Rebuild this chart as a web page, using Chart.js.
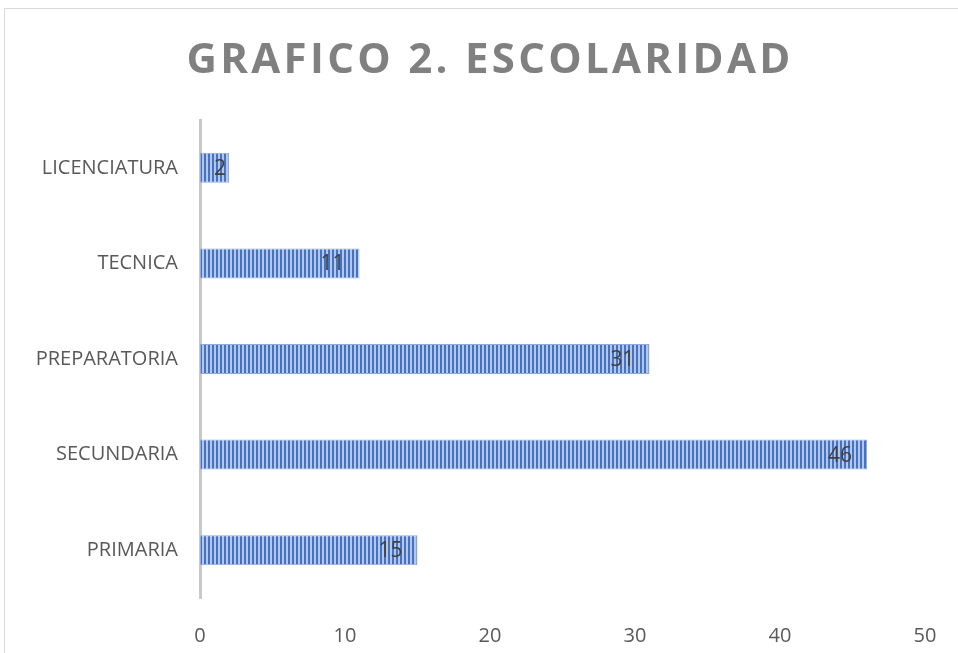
<!DOCTYPE html>
<html lang="es">
<head>
    <meta charset="UTF-8">
    <title>Grafico 2. Escolaridad</title>
    <script src="https://cdn.jsdelivr.net/npm/chart.js"></script>
    <style>
        html, body { margin: 0; padding: 0; background: #fff; }
        #wrap { position: relative; width: 958px; height: 653px; overflow: hidden; }
        #frame { position: absolute; left: 4px; top: 8px; width: 1000px; height: 700px;
                 border-top: 1px solid #d9d9d9; border-left: 1px solid #d9d9d9; }
        #grafico { position: absolute; left: 0; top: 0; }
    </style>
</head>
<body>
<div id="wrap">
    <div id="frame"></div>
    <canvas id="grafico" width="958" height="653"></canvas>
</div>

<script>
    // datos (orden de Excel: de abajo hacia arriba)
    const categorias = ['PRIMARIA', 'SECUNDARIA', 'PREPARATORIA', 'TECNICA', 'LICENCIATURA'];
    const valores = [15, 46, 31, 11, 2];
    const ticksX = [0, 10, 20, 30, 40, 50];
    const titulo = 'GRAFICO 2. ESCOLARIDAD';

    const fuente = "'Open Sans', 'Noto Sans', sans-serif";
    // el marco del grafico de Excel sigue mas alla del borde derecho
    const centroMarco = 488.5;

    // relleno rayado vertical como el de Excel
    function patronRayas() {
        const c = document.createElement('canvas');
        c.width = 4; c.height = 1;
        const g = c.getContext('2d');
        g.fillStyle = '#b4c7e9';
        g.fillRect(0, 0, 4, 1);
        g.fillStyle = '#4472c4';
        g.fillRect(0, 0, 2, 1);
        return g.createPattern(c, 'repeat');
    }

    // etiquetas de datos "extremo interno"
    const etiquetas = {
        id: 'etiquetas',
        afterDatasetsDraw(chart) {
            const ctx = chart.ctx;
            const meta = chart.getDatasetMeta(0);
            ctx.save();
            ctx.font = '21px ' + fuente;
            ctx.fillStyle = '#404040';
            ctx.textAlign = 'center';
            ctx.textBaseline = 'middle';
            meta.data.forEach((bar, i) => {
                const txt = String(valores[i]);
                const w = ctx.measureText(txt).width;
                let cx = bar.x - 27;
                if (cx - w / 2 < bar.base) cx = bar.x - w / 2 - 3;
                ctx.fillText(txt, cx, bar.y + 1);
            });
            ctx.restore();
        }
    };

    // espaciado de letras y centrado del titulo sobre el marco
    const espaciado = {
        id: 'espaciado',
        afterInit(chart) {
            const tb = chart.titleBlock;
            if (!tb) return;
            const orig = tb.draw;
            tb.draw = function () {
                const c = chart.ctx;
                c.save();
                c.letterSpacing = '3.3px';
                c.translate(centroMarco - (this.left + this.right) / 2 + 1.6, 0);
                orig.apply(this, arguments);
                c.restore();
            };
        }
    };

    window.onload = function () {
        const ctx = document.getElementById('grafico').getContext('2d');
        new Chart(ctx, {
            type: 'bar',
            data: {
                labels: categorias,
                datasets: [{
                    data: valores,
                    backgroundColor: patronRayas(),
                    borderColor: '#8eaadb',
                    borderWidth: 1,
                    borderSkipped: false,
                    categoryPercentage: 1,
                    barPercentage: 0.314
                }]
            },
            options: {
                indexAxis: 'y',
                responsive: false,
                animation: false,
                layout: { padding: { left: 0, right: 33, top: 0, bottom: 0 } },
                plugins: {
                    legend: { display: false },
                    tooltip: { enabled: false },
                    title: {
                        display: true,
                        text: titulo,
                        color: '#808080',
                        font: { family: fuente, size: 42, weight: 'bold', lineHeight: 1.2 },
                        padding: { top: 36, bottom: 33.6 }
                    }
                },
                scales: {
                    x: {
                        min: 0,
                        max: 50,
                        afterBuildTicks(scale) {
                            scale.ticks = ticksX.map(v => ({ value: v }));
                        },
                        grid: { display: false },
                        border: { display: false },
                        ticks: {
                            color: '#595959',
                            font: { family: fuente, size: 20 },
                            padding: 18,
                            maxRotation: 0
                        },
                        afterFit(scale) { scale.height = 55; }
                    },
                    y: {
                        reverse: true,
                        grid: { display: false },
                        border: { display: true, color: '#c9c9c9', width: 3 },
                        ticks: {
                            color: '#595959',
                            font: { family: fuente, size: 20 },
                            padding: 14
                        },
                        afterFit(scale) { scale.width = 200; }
                    }
                }
            },
            plugins: [etiquetas, espaciado]
        });
    };
</script>
</body>
</html>
